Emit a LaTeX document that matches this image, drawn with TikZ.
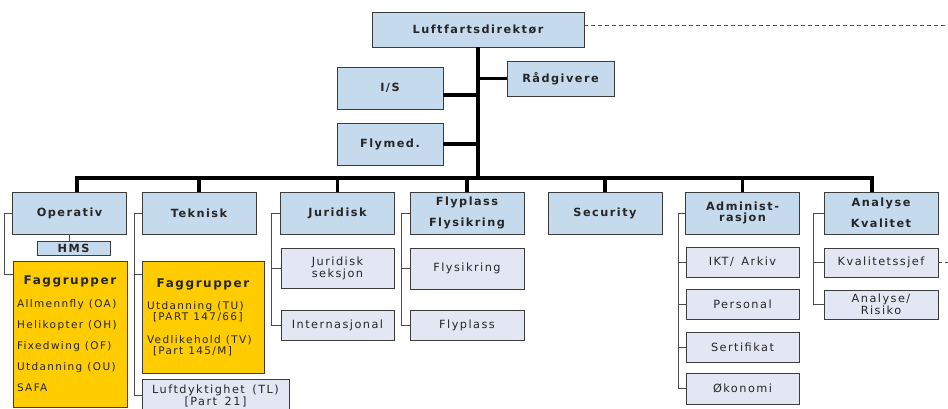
\documentclass[tikz,border=0pt]{standalone}
\usepackage{fontspec}
\setmainfont{DejaVu Sans}[LetterSpace=13, WordSpace=1.5]
\definecolor{unitblue}{RGB}{198,218,238}
\definecolor{subblue}{RGB}{227,231,243}
\definecolor{faggul}{RGB}{255,204,0}
\definecolor{rim}{RGB}{60,60,60}
\newcommand{\faghead}{\noindent\spaceskip=.48em\relax\hbox to\hsize{\hfil\fontsize{12}{12}\selectfont\bfseries Faggrupper\hfil}}
\begin{document}
\begin{tikzpicture}[x=1pt, y=-1pt, every node/.style={font=\fontsize{11.3}{10.7}\selectfont, text=black!85, inner sep=0pt},
	unit/.style={draw=rim, fill=unitblue, font=\fontsize{11.3}{10.7}\selectfont\bfseries, align=center, minimum width=114pt, minimum height=42pt},
	sub/.style={draw=rim, fill=subblue, align=center, minimum width=113pt, minimum height=30pt},
	fag/.style={draw=rim, fill=faggul, align=left},
	bus/.style={line width=3.3pt},
	twig/.style={draw=black!70, line width=0.9pt},
	dashline/.style={draw=black!70, line width=0.8pt, dash pattern=on 4pt off 3pt}]
			 \useasboundingbox (0,0) rectangle (948,408);
			 \node[unit, minimum width=212pt, minimum height=35pt] (dir)at(478,29.5) {Luftfartsdirektør};
			 \node[unit, minimum width=106pt] (is)at(390,88) {I/S};
			 \node[unit, minimum width=106pt] (flymed)at(390,144) {Flymed.};
			 \node[unit, minimum width=107pt, minimum height=35pt] (raad)at(560.5,78.5) {Rådgivere};
			 \node[unit] (opr)at(69.5,213) {Operativ};
			 \node[unit] (tek)at(199,213) {Teknisk};
			 \node[unit] (jur)at(337.5,213) {Juridisk};
			 \node[unit] (fly)at(467,213) {Flyplass\\[9pt]Flysikring};
			 \node[unit] (sec)at(605,213) {Security};
			 \node[unit] (adm)at(742.5,213) {Administ-\\rasjon};
			 \node[unit] (ana)at(881,213) {Analyse\\[9pt]Kvalitet};
			 \node[unit, minimum width=73pt, minimum height=14pt] (hms)at(73.5,248) {HMS};
			 \node[fag, minimum width=114pt, minimum height=146pt, text width=106pt, font=\fontsize{10.5}{21}\selectfont] (oprfag)at(70,334) {\faghead\\[2pt]Allmennfly (OA)\\Helikopter (OH)\\Fixedwing (OF)\\Utdanning (OU)\\SAFA};
			 \node[fag, minimum width=122pt, minimum height=112pt, text width=112pt, font=\fontsize{10.5}{10.7}\selectfont] (tekfag)at(203,317) {\faghead\\[12pt]Utdanning (TU)\\\hspace*{6pt}[PART 147/66]\\[12pt]Vedlikehold (TV)\\\hspace*{6pt}[Part 145/M]};
			 \node[sub, minimum width=147pt, minimum height=33pt] (luft)at(215.5,395.5) {Luftdyktighet (TL)\\{}[Part 21]};
			 \node[sub, minimum height=40pt] (jsek)at(337.5,268) {Juridisk\\seksjon};
			 \node[sub] (jint)at(337.5,325) {Internasjonal};
			 \node[sub, minimum width=114pt, minimum height=41pt] (fsik)at(467,268.5) {Flysikring};
			 \node[sub, minimum width=114pt] (fplass)at(467,325) {Flyplass};
			 \node[sub] (ikt)at(742.5,262) {IKT/ Arkiv};
			 \node[sub] (pers)at(742.5,304.5) {Personal};
			 \node[sub] (sert)at(742.5,347) {Sertifikat};
			 \node[sub, minimum height=31pt] (oko)at(742.5,388.5) {Økonomi};
			 \node[sub, minimum width=114pt, minimum height=29pt] (kval)at(881,262.5) {Kvalitetssjef};
			 \node[sub, minimum width=114pt, minimum height=29pt] (risk)at(881,304.5) {Analyse/\\Risiko};
			 \coordinate (busL)at(77,178);
			 \coordinate (busR)at(872,178);
			 \coordinate (rimTop)at(948,25);
			 \coordinate (rimKval)at(948,262.5);
			 \draw[bus] (busL |- opr.north) -- (busL) -- (busR) -- (busR |- ana.north);
			 \draw[bus] (dir.south) -- (dir.south |- busL);
			 \draw[bus] ([yshift=-7pt]is.east) -- ([yshift=-7pt]is.east -| dir.south);
			 \draw[bus] (flymed.east) -- (flymed.east -| dir.south);
			 \draw[bus] (raad.west) -- (raad.west -| dir.south);
			 \draw[bus] (tek.north |- busL) -- (tek.north);
			 \draw[bus] (jur.north |- busL) -- (jur.north);
			 \draw[bus] (fly.north |- busL) -- (fly.north);
			 \draw[bus] (sec.north |- busL) -- (sec.north);
			 \draw[bus] (adm.north |- busL) -- (adm.north);
			 \draw[twig] (opr.south) -- (opr.south |- hms.north);
			 \draw[twig] (opr.west) -- ++(-8,0) |- ([yshift=-14pt]oprfag.north west);
			 \draw[twig] (tek.west) -- ++(-7,0) |- (luft.west);
			 \draw[twig] ([yshift=-14pt]tekfag.north west) -- ++(-7,0);
			 \draw[twig] (jur.west) -- ++(-9,0) |- (jint.west);
			 \draw[twig] (jsek.west) -- ++(-9,0);
			 \draw[twig] (fly.west) -- ++(-8,0) |- (fplass.west);
			 \draw[twig] (fsik.west) -- ++(-8,0);
			 \draw[twig] (adm.west) -- ++(-7,0) |- (oko.west);
			 \draw[twig] (ikt.west) -- ++(-7,0);
			 \draw[twig] (pers.west) -- ++(-7,0);
			 \draw[twig] (sert.west) -- ++(-7,0);
			 \draw[twig] (ana.west) -- ++(-10,0) |- (risk.west);
			 \draw[twig] (kval.west) -- ++(-10,0);
			 \draw[dashline] ([yshift=4.5pt]dir.east) -- (rimTop);
			 \draw[dashline] (kval.east) -- (rimKval);
\end{tikzpicture}
\end{document}
